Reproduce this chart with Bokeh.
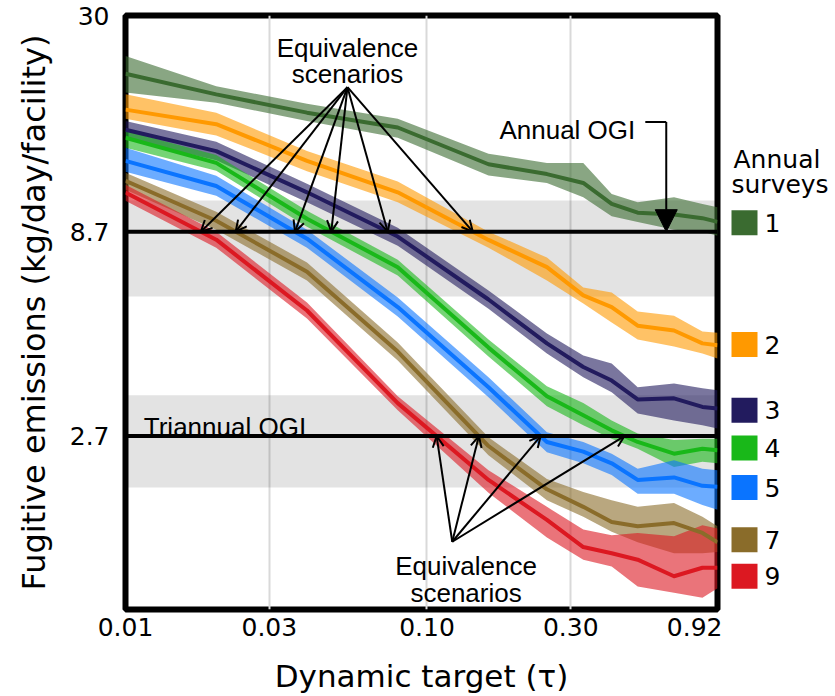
import math
from bokeh.plotting import figure
from bokeh.models import (Range1d, FixedTicker, Span, BoxAnnotation, Arrow,
                          OpenHead, NormalHead, Label)
from bokeh.layouts import row
from bokeh.core.properties import value
from bokeh.embed import file_html
from bokeh.resources import INLINE

# ---------------- data ----------------
TAU = [0.01, 0.02, 0.04, 0.08, 0.16, 0.25, 0.33, 0.41, 0.5, 0.66, 0.82, 0.92]

SURVEYS = ["1", "2", "3", "4", "5", "7", "9"]

S1_MID = [21.5, 19.1, 17.2, 15.8, 12.8, 12.1, 11.5, 10.2, 9.7, 9.6, 9.4, 9.2]
S1_LO = [19.3, 18.2, 16.4, 14.9, 12.0, 11.5, 10.6, 9.5, 9.2, 8.8, 8.7, 8.5]
S1_HI = [23.8, 20.0, 18.1, 16.6, 13.6, 12.9, 12.9, 10.8, 10.3, 10.6, 10.2, 10.0]

S2_MID = [17.5, 16.1, 13.05, 10.9, 8.3, 7.1, 6.04, 5.65, 5.08, 4.94, 4.59, 4.54]
S2_LO = [16.6, 15.1, 12.3, 10.3, 7.94, 6.58, 5.77, 5.17, 4.69, 4.51, 4.33, 4.21]
S2_HI = [19.1, 17.2, 13.8, 11.6, 8.7, 7.5, 6.32, 6.14, 5.51, 5.38, 4.91, 4.88]

S3_MID = [15.6, 13.8, 10.9, 8.46, 5.9, 4.59, 4.01, 3.71, 3.33, 3.35, 3.19, 3.16]
S3_LO = [14.8, 13.1, 10.3, 8.03, 5.6, 4.33, 3.78, 3.47, 3.07, 2.95, 2.87, 2.82]
S3_HI = [16.4, 14.55, 11.45, 8.9, 6.21, 4.86, 4.28, 4.09, 3.57, 3.65, 3.55, 3.51]

S4_MID = [14.9, 12.9, 9.37, 7.1, 4.48, 3.39, 3.04, 2.79, 2.61, 2.44, 2.51, 2.49]
S4_LO = [14.06, 12.33, 8.95, 6.77, 4.26, 3.2, 2.87, 2.66, 2.51, 2.26, 2.33, 2.31]
S4_HI = [15.5, 13.5, 9.81, 7.41, 4.69, 3.59, 3.26, 2.95, 2.74, 2.64, 2.66, 2.66]

S5_MID = [13.05, 11.3, 8.36, 5.65, 3.57, 2.61, 2.47, 2.31, 2.10, 2.13, 2.03, 2.02]
S5_LO = [12.26, 10.69, 7.94, 5.35, 3.37, 2.46, 2.31, 2.16, 1.94, 1.94, 1.82, 1.77]
S5_HI = [14.06, 11.98, 8.8, 5.97, 3.78, 2.76, 2.61, 2.44, 2.24, 2.35, 2.24, 2.22]

S7_MID = [11.64, 9.26, 6.92, 4.38, 2.55, 1.99, 1.80, 1.65, 1.61, 1.64, 1.55, 1.47]
S7_LO = [11.06, 8.80, 6.58, 4.16, 2.42, 1.87, 1.70, 1.56, 1.47, 1.38, 1.38, 1.39]
S7_HI = [12.19, 9.75, 7.29, 4.61, 2.68, 2.11, 1.96, 1.87, 1.80, 1.84, 1.70, 1.61]

S9_MID = [10.89, 8.31, 5.54, 3.26, 2.10, 1.67, 1.43, 1.38, 1.33, 1.21, 1.27, 1.27]
S9_LO = [10.38, 7.94, 5.29, 3.13, 1.95, 1.51, 1.33, 1.28, 1.14, 1.10, 1.07, 1.13]
S9_HI = [11.38, 8.7, 5.8, 3.39, 2.22, 1.80, 1.58, 1.53, 1.55, 1.52, 1.62, 1.59]

ANNUAL_OGI = 8.7
ANNUAL_OGI_BAND = (6.0, 10.4)
TRIANNUAL_OGI = 2.7
TRIANNUAL_OGI_BAND = (2.01, 3.41)

X_TICKS = [0.01, 0.03, 0.1, 0.3, 0.92]
X_TICK_LABELS = ["0.01", "0.03", "0.10", "0.30", "0.92"]
Y_TICKS = [2.7, 8.7, 30]
Y_TICK_LABELS = ["2.7", "8.7", "30"]

X_TITLE = "Dynamic target (τ)"
Y_TITLE = "Fugitive emissions (kg/day/facility)"

COLORS = ["#3a6b30", "#ff9900", "#221b5e", "#19b819", "#0a74ff", "#8a6c2a", "#dc1821"]

SERIES = [
    (S1_MID, S1_LO, S1_HI),
    (S2_MID, S2_LO, S2_HI),
    (S3_MID, S3_LO, S3_HI),
    (S4_MID, S4_LO, S4_HI),
    (S5_MID, S5_LO, S5_HI),
    (S7_MID, S7_LO, S7_HI),
    (S9_MID, S9_LO, S9_HI),
]

AXIS_FONT = "DejaVu Sans"
NOTE_FONT = "Liberation Sans"


def crossing(xs, ys, level):
    """x where the series first crosses `level` (log-log interpolation)."""
    for i in range(len(xs) - 1):
        y0, y1 = ys[i], ys[i + 1]
        if (y0 - level) * (y1 - level) <= 0 and y0 != y1:
            t = (math.log10(level) - math.log10(y0)) / (math.log10(y1) - math.log10(y0))
            lx = math.log10(xs[i]) + t * (math.log10(xs[i + 1]) - math.log10(xs[i]))
            return 10 ** lx
    return xs[-1]


y_range = Range1d(1, 30)

p = figure(x_axis_type="log", y_axis_type="log",
           x_range=Range1d(0.01, 0.92), y_range=y_range,
           frame_width=592, frame_height=594,
           min_border_left=125, min_border_right=5,
           min_border_top=15, min_border_bottom=87,
           output_backend="svg", toolbar_location=None,
           background_fill_color="white", border_fill_color="white")

p.outline_line_color = "black"
p.outline_line_width = 6

# axes
p.xaxis.ticker = FixedTicker(ticks=X_TICKS, minor_ticks=[])
p.xaxis.major_label_overrides = dict(zip(X_TICKS, X_TICK_LABELS))
p.yaxis.ticker = FixedTicker(ticks=Y_TICKS, minor_ticks=[])
p.yaxis.major_label_overrides = dict(zip(Y_TICKS, Y_TICK_LABELS))
for ax in (p.xaxis, p.yaxis):
    ax.axis_line_color = None
    ax.major_tick_line_color = None
    ax.minor_tick_line_color = None
    ax.major_tick_in = 0
    ax.major_tick_out = 0
    ax.minor_tick_in = 0
    ax.minor_tick_out = 0
    ax.major_label_text_font = AXIS_FONT
    ax.major_label_text_font_size = "25px"
    ax.major_label_text_color = "black"
    ax.axis_label_text_font = AXIS_FONT
    ax.axis_label_text_font_style = "normal"
    ax.axis_label_text_color = "black"
p.xaxis.axis_label = X_TITLE
p.yaxis.axis_label = Y_TITLE
p.xaxis.axis_label_text_font_size = "31px"
p.yaxis.axis_label_text_font_size = "32px"
p.xaxis.major_label_standoff = 8
p.xaxis.axis_label_standoff = 19
p.yaxis.major_label_standoff = 16
p.yaxis.axis_label_standoff = 14

p.ygrid.grid_line_color = None
p.xgrid.ticker = FixedTicker(ticks=X_TICKS[1:-1], minor_ticks=[])
p.xgrid.grid_line_color = "#d9d9d9"
p.xgrid.grid_line_width = 2

# OGI reference bands
for lo, hi in (ANNUAL_OGI_BAND, TRIANNUAL_OGI_BAND):
    p.add_layout(BoxAnnotation(bottom=lo, top=hi, fill_color="black",
                               fill_alpha=0.11, line_color=None, level="underlay"))

# series bands + lines
for (mid, lo, hi), col in zip(SERIES, COLORS):
    p.varea(x=TAU, y1=lo, y2=hi, fill_color=col, fill_alpha=0.6)
for (mid, lo, hi), col in zip(SERIES, COLORS):
    p.line(x=TAU, y=mid, line_color=col, line_width=4, line_join="round")

# OGI lines
for lvl in (ANNUAL_OGI, TRIANNUAL_OGI):
    p.add_layout(Span(location=lvl, dimension="width", line_color="black",
                      line_width=4))


# Annotations ---------------------------------------------------------
def note(x, y, text, align="center"):
    p.add_layout(Label(x=x, y=y, text=text, text_align=align,
                       text_baseline="alphabetic", text_font=NOTE_FONT,
                       text_font_size="26px", text_color="black"))


# upper "Equivalence scenarios"
note(0.0545, 24.9, "Equivalence")
note(0.0545, 21.4, "scenarios")
UP_START = (0.0545, 19.9)
for idx in (6, 5, 4, 3, 2, 1):
    xe = crossing(TAU, SERIES[idx][0], ANNUAL_OGI)
    p.add_layout(Arrow(end=OpenHead(size=11, line_width=2, line_color="black"),
                       x_start=UP_START[0], y_start=UP_START[1],
                       x_end=xe, y_end=ANNUAL_OGI,
                       line_width=2, line_color="black"))

# lower "Equivalence scenarios"
note(0.1348, 1.283, "Equivalence")
note(0.1348, 1.0995, "scenarios")
LOW_START = (0.1213, 1.474)
for idx in (6, 5, 4, 3):
    xe = crossing(TAU, SERIES[idx][0], TRIANNUAL_OGI)
    p.add_layout(Arrow(end=OpenHead(size=11, line_width=2, line_color="black"),
                       x_start=LOW_START[0], y_start=LOW_START[1],
                       x_end=xe, y_end=TRIANNUAL_OGI,
                       line_width=2, line_color="black"))

# Annual OGI
note(0.491, 15.6, "Annual OGI", align="right")
p.segment(x0=[0.53], y0=[16.3], x1=[0.622], y1=[16.3], line_color="black",
          line_width=2)
p.add_layout(Arrow(end=NormalHead(size=22, fill_color="black", line_color="black"),
                   x_start=0.622, y_start=16.3, x_end=0.622, y_end=ANNUAL_OGI,
                   line_width=2, line_color="black"))

# Triannual OGI
note(0.0115, 2.85, "Triannual OGI", align="left")

# ---------------- legend panel ----------------
LEGEND_Y = [9.16, 4.56, 3.13, 2.52, 2.01, 1.49, 1.21]

lg = figure(x_range=Range1d(0, 113), y_range=y_range, y_axis_type="log",
            frame_width=113, frame_height=594,
            min_border_left=0, min_border_right=0,
            min_border_top=15, min_border_bottom=87,
            output_backend="svg", toolbar_location=None,
            background_fill_color="white", border_fill_color="white")
lg.outline_line_color = None
lg.xaxis.visible = False
lg.yaxis.visible = False
lg.grid.visible = False

lg.rect(x=[22] * len(SURVEYS), y=LEGEND_Y, width=26, height=25,
        width_units="screen", height_units="screen",
        fill_color=COLORS, line_color=None)
lg.text(x=[42] * len(SURVEYS), y=LEGEND_Y, text=SURVEYS,
        text_baseline="middle", text_align="left",
        text_font=value(AXIS_FONT), text_font_size="25px", text_color="black")
lg.add_layout(Label(x=11, y=13.13, text="Annual", text_font=AXIS_FONT,
                    text_font_size="25px", text_baseline="alphabetic",
                    text_color="black"))
lg.add_layout(Label(x=9, y=11.38, text="surveys", text_font=AXIS_FONT,
                    text_font_size="25px", text_baseline="alphabetic",
                    text_color="black"))

layout = row(p, lg)
open("out.html", "w").write(file_html(layout, INLINE))
